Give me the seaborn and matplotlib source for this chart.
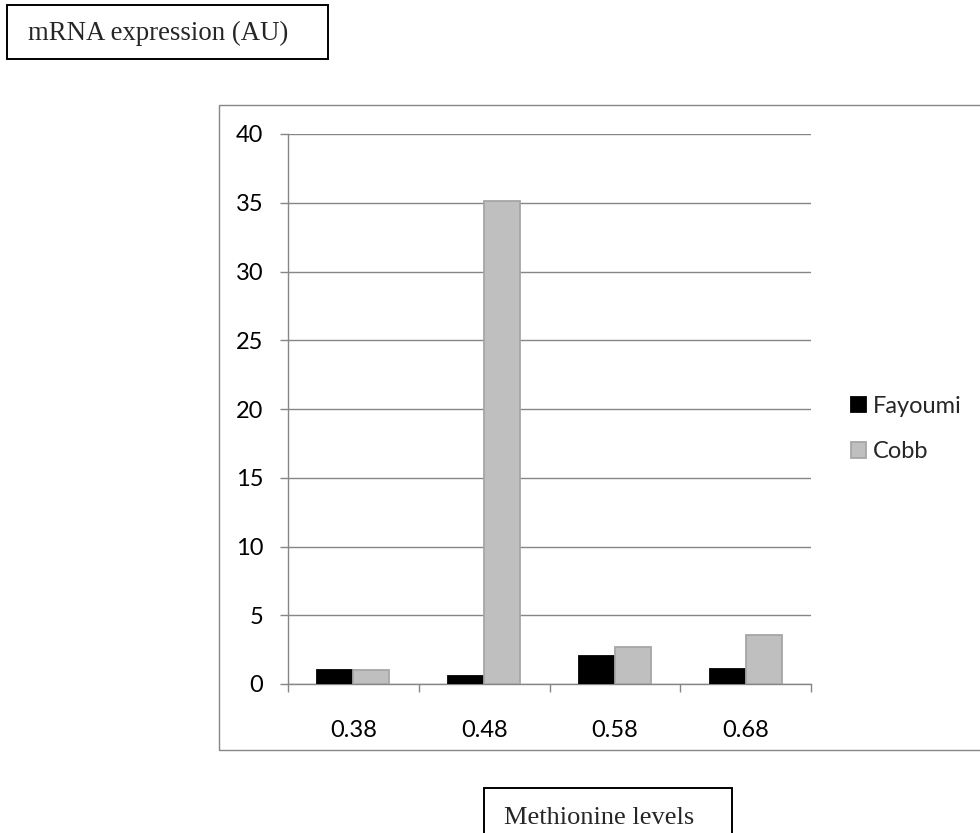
import matplotlib
matplotlib.use("Agg")
import matplotlib.pyplot as plt
from matplotlib.patches import Rectangle, Patch
import numpy as np
import pandas as pd
import seaborn as sns

# Methionine levels and relative mRNA expression per breed
levels = ["0.38", "0.48", "0.58", "0.68"]
fayoumi = [1.0, 0.58, 2.03, 1.09]
cobb = [1.03, 35.1, 2.7, 3.57]
breeds = ["Fayoumi", "Cobb"]
y_ticks = [0, 5, 10, 15, 20, 25, 30, 35, 40]

df = pd.DataFrame({
    "level": levels * 2,
    "breed": [breeds[0]] * len(levels) + [breeds[1]] * len(levels),
    "value": fayoumi + cobb,
})

sns.set_style("white")
plt.rcParams["font.family"] = ["Lato", "DejaVu Sans"]

W, H = 980, 833
fig = plt.figure(figsize=(W / 100, H / 100), dpi=100)


def fx(px):
    return px / W


def fy(py):
    return 1 - py / H


ax = fig.add_axes([fx(288), fy(684), fx(811) - fx(288), fy(134) - fy(684)])

fills = {"Fayoumi": "#000000", "Cobb": "#bfbfbf"}
edges = {"Fayoumi": "#000000", "Cobb": "#a6a6a6"}

sns.barplot(data=df, x="level", y="value", hue="breed", order=levels,
            hue_order=breeds, palette=fills, width=0.55, saturation=1,
            errorbar=None, legend=False, ax=ax, zorder=3)

for cont, name in zip(ax.containers, breeds):
    for bar in cont:
        bar.set_edgecolor(edges[name])
        bar.set_linewidth(1.3)

grid_c = "#868686"
ax.set_ylim(0, 40)
ax.set_xlim(-0.5, len(levels) - 0.5)
ax.set_yticks(y_ticks)
ax.set_yticklabels([str(t) for t in y_ticks])
ax.yaxis.grid(True, color=grid_c, linewidth=1.0, zorder=0)
ax.xaxis.grid(False)
ax.set_axisbelow(True)
for s in ["top", "right"]:
    ax.spines[s].set_visible(False)
for s in ["left", "bottom"]:
    ax.spines[s].set_color(grid_c)
    ax.spines[s].set_linewidth(1.0)

ax.set_xlabel("")
ax.set_ylabel("")
ax.tick_params(axis="y", which="major", direction="out", length=5.8,
               width=1.0, color=grid_c, labelsize=17, pad=12, left=True,
               labelcolor="black")
ax.tick_params(axis="x", which="major", length=0, labelsize=17, pad=26,
               labelcolor="black")
ax.set_xticks(np.arange(-0.5, len(levels), 1.0), minor=True)
ax.tick_params(axis="x", which="minor", direction="out", length=5.8,
               width=1.0, color=grid_c, bottom=True)

# outer chart frame (runs off the right edge)
fig.add_artist(Rectangle((fx(219), fy(750)), fx(1000) - fx(219),
                         fy(105) - fy(750), transform=fig.transFigure,
                         fill=False, edgecolor=grid_c, linewidth=1.0))

handles = [Patch(facecolor=fills[b], edgecolor=edges[b], linewidth=1.3)
           for b in breeds]
fig.legend(handles, breeds, loc="center left",
           bbox_to_anchor=(fx(851), fy(429)), frameon=False, fontsize=17,
           handlelength=0.64, handleheight=0.64, handletextpad=0.3,
           labelspacing=1.05, borderpad=0, borderaxespad=0)

# boxed axis captions
fig.add_artist(Rectangle((fx(7), fy(59)), fx(328) - fx(7), fy(5) - fy(59),
                         transform=fig.transFigure, fill=False,
                         edgecolor="black", linewidth=1.4))
fig.text(fx(28), fy(40), "mRNA expression (AU)", family="Liberation Serif",
         fontsize=19.3, ha="left", va="baseline")

fig.add_artist(Rectangle((fx(484), fy(850)), fx(732) - fx(484),
                         fy(788) - fy(850), transform=fig.transFigure,
                         fill=False, edgecolor="black", linewidth=1.4,
                         clip_on=False))
fig.text(fx(504), fy(824), "Methionine levels", family="Liberation Serif",
         fontsize=19, ha="left", va="baseline")

fig.savefig("out.png", dpi=100)
